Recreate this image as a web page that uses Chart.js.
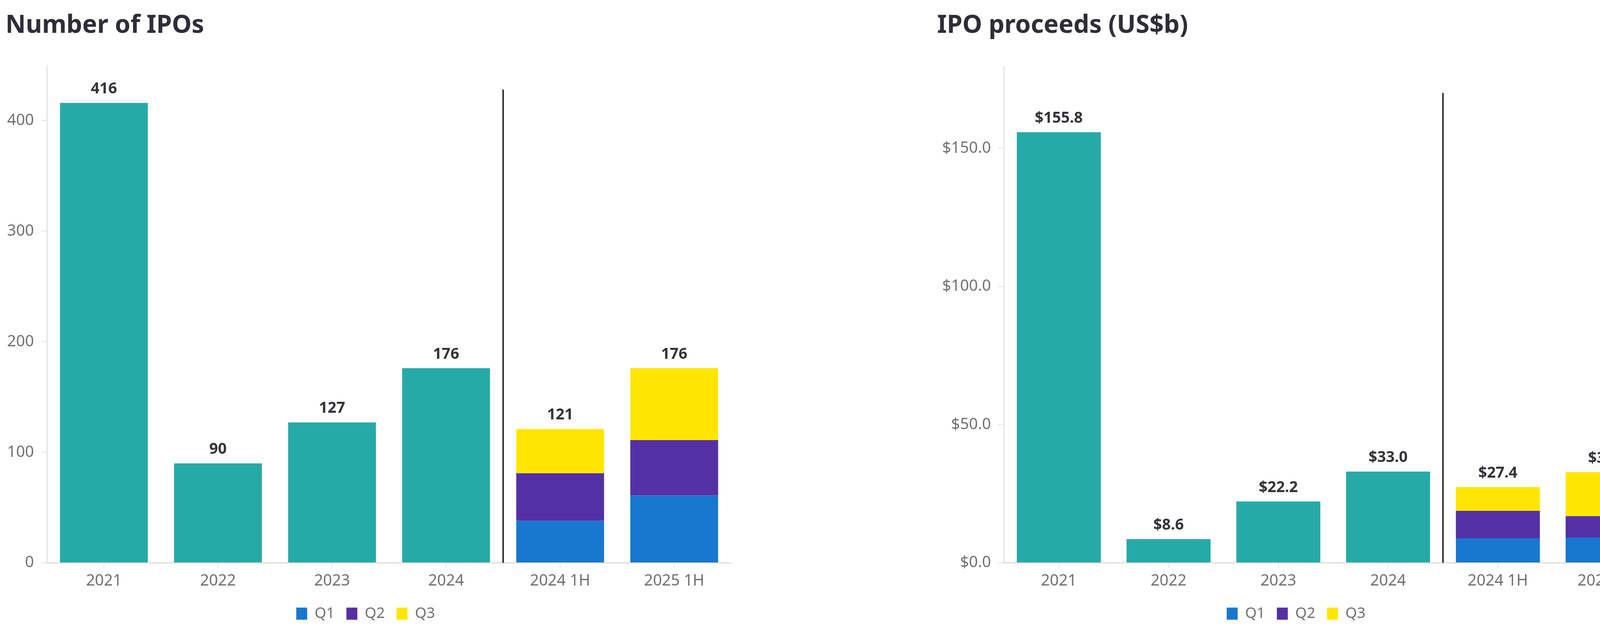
<!DOCTYPE html>
<html>
<head>
<meta charset="utf-8">
<script src="https://cdn.jsdelivr.net/npm/chart.js@4.4.1/dist/chart.umd.min.js"></script>
<style>
    html, body { margin: 0; padding: 0; background: #fff; overflow: hidden; }
    body { width: 4224px; height: 1599px; position: relative; font-family: 'Noto Sans', sans-serif; }
    .chart-title { position: absolute; top: 28px; font-size: 64px; line-height: 64px; font-weight: 700; color: #2e2e38; white-space: nowrap; }
    .chart-box { position: absolute; top: 0; height: 1599px; }
</style>
</head>
<body>
<div class="chart-title" style="left:14px">Number of IPOs</div>
<div class="chart-title" style="left:2399px">IPO proceeds (US$b)</div>
<div class="chart-box" style="left:0; width:1880px"><canvas id="ipoCountChart"></canvas></div>
<div class="chart-box" style="left:2380px; width:1884px"><canvas id="ipoProceedsChart"></canvas></div>
<script>
const categories = ['2021', '2022', '2023', '2024', '2024 1H', '2025 1H'];
const quarterLabels = ['Q1', 'Q2', 'Q3'];

// number of IPOs
const countAnnual = [416, 90, 127, 176, null, null];
const countQ1 = [null, null, null, null, 38, 61];
const countQ2 = [null, null, null, null, 43, 50];
const countQ3 = [null, null, null, null, 40, 65];
const countTicks = [0, 100, 200, 300, 400];

// proceeds, US$b
const proceedsAnnual = [155.8, 8.6, 22.2, 33.0, null, null];
const proceedsQ1 = [null, null, null, null, 8.9, 9.2];
const proceedsQ2 = [null, null, null, null, 9.9, 7.7];
const proceedsQ3 = [null, null, null, null, 8.6, 15.9];
const proceedsTicks = [0, 50, 100, 150];

const COLORS = {
    annual: '#26aaa8',
    q1: '#1877cf',
    q2: '#5430a5',
    q3: '#ffe600',
    label: '#333338',
    tick: '#707070',
    axis: '#e4e4e4',
    divider: '#2e2e2e'
};
const FONT = "'Noto Sans', sans-serif";

const valueLabelPlugin = {
    id: 'valueLabels',
    afterDatasetsDraw(chart, args, opts) {
        const { ctx } = chart;
        ctx.save();
        ctx.font = `bold 39px ${FONT}`;
        ctx.fillStyle = COLORS.label;
        ctx.textAlign = 'center';
        ctx.textBaseline = 'bottom';
        chart.data.labels.forEach((_, i) => {
            let total = 0;
            let topY = null;
            let x = null;
            chart.data.datasets.forEach((ds, di) => {
                const v = ds.data[i];
                if (v === null || v === undefined) return;
                total += v;
                const bar = chart.getDatasetMeta(di).data[i];
                if (topY === null || bar.y < topY) {
                    topY = bar.y;
                    x = bar.x;
                }
            });
            if (topY === null) return;
            ctx.fillText(opts.format(total), x, topY - 16);
        });
        ctx.restore();
    }
};

const dividerPlugin = {
    id: 'periodDivider',
    afterDatasetsDraw(chart, args, opts) {
        const xs = chart.scales.x;
        const ys = chart.scales.y;
        const x = (xs.getPixelForValue(opts.after) + xs.getPixelForValue(opts.after + 1)) / 2;
        const { ctx } = chart;
        ctx.save();
        ctx.strokeStyle = COLORS.divider;
        ctx.lineWidth = 4;
        ctx.beginPath();
        ctx.moveTo(x, ys.getPixelForValue(opts.top));
        ctx.lineTo(x, ys.bottom);
        ctx.stroke();
        ctx.restore();
    }
};

function buildIpoChart(canvasId, cfg) {
    const ctx = document.getElementById(canvasId).getContext('2d');
    const datasets = [
        { label: 'Annual', data: cfg.annual, backgroundColor: COLORS.annual },
        { label: quarterLabels[0], data: cfg.q1, backgroundColor: COLORS.q1 },
        { label: quarterLabels[1], data: cfg.q2, backgroundColor: COLORS.q2 },
        { label: quarterLabels[2], data: cfg.q3, backgroundColor: COLORS.q3 }
    ].map((ds) => ({ ...ds, borderWidth: 0, categoryPercentage: cfg.barShare, barPercentage: 1 }));

    const maxTick = cfg.max;
    return new Chart(ctx, {
        type: 'bar',
        data: { labels: categories, datasets },
        plugins: [valueLabelPlugin, dividerPlugin],
        options: {
            responsive: true,
            maintainAspectRatio: false,
            animation: false,
            devicePixelRatio: 1,
            layout: { padding: { top: 167, right: 8, bottom: 0, left: 0 } },
            plugins: {
                tooltip: { enabled: false },
                valueLabels: { format: cfg.format },
                periodDivider: { after: 3, top: cfg.dividerTop },
                legend: {
                    position: 'bottom',
                    labels: {
                        filter: (item) => quarterLabels.includes(item.text),
                        boxWidth: 28,
                        boxHeight: 31,
                        padding: 30,
                        color: COLORS.tick,
                        font: { family: FONT, size: 38 }
                    }
                }
            },
            scales: {
                x: {
                    stacked: true,
                    grid: { display: true, drawOnChartArea: false, drawTicks: true, tickLength: 13, offset: false, color: COLORS.axis, lineWidth: 2 },
                    border: { display: true, color: COLORS.axis, width: 4 },
                    ticks: { color: COLORS.tick, padding: 10, font: { family: FONT, size: 40 } }
                },
                y: {
                    stacked: true,
                    min: 0,
                    max: maxTick,
                    afterBuildTicks: (scale) => {
                        scale.ticks = cfg.ticks.concat([maxTick]).map((v) => ({ value: v }));
                    },
                    afterFit: (scale) => { scale.width = cfg.axisWidth; },
                    grid: {
                        display: true,
                        drawOnChartArea: false,
                        drawTicks: true,
                        tickLength: 15,
                        lineWidth: 2,
                        color: (c) => (c.tick && c.tick.value === maxTick ? 'rgba(0,0,0,0)' : COLORS.axis)
                    },
                    border: { display: true, color: COLORS.axis, width: 3 },
                    ticks: {
                        color: COLORS.tick,
                        padding: 18,
                        font: { family: FONT, size: 40 },
                        callback: (value) => (value === maxTick ? '' : cfg.tickFormat(value))
                    }
                }
            }
        }
    });
}

buildIpoChart('ipoCountChart', {
    annual: countAnnual, q1: countQ1, q2: countQ2, q3: countQ3,
    ticks: countTicks,
    max: 450,
    dividerTop: 428,
    axisWidth: 120,
    barShare: 0.77,
    format: (v) => String(Math.round(v)),
    tickFormat: (v) => String(v)
});

buildIpoChart('ipoProceedsChart', {
    annual: proceedsAnnual, q1: proceedsQ1, q2: proceedsQ2, q3: proceedsQ3,
    ticks: proceedsTicks,
    max: 180,
    dividerTop: 170,
    axisWidth: 190,
    barShare: 0.765,
    format: (v) => `$${v.toFixed(1)}`,
    tickFormat: (v) => `$${Number(v).toFixed(1)}`
});
</script>
</body>
</html>
